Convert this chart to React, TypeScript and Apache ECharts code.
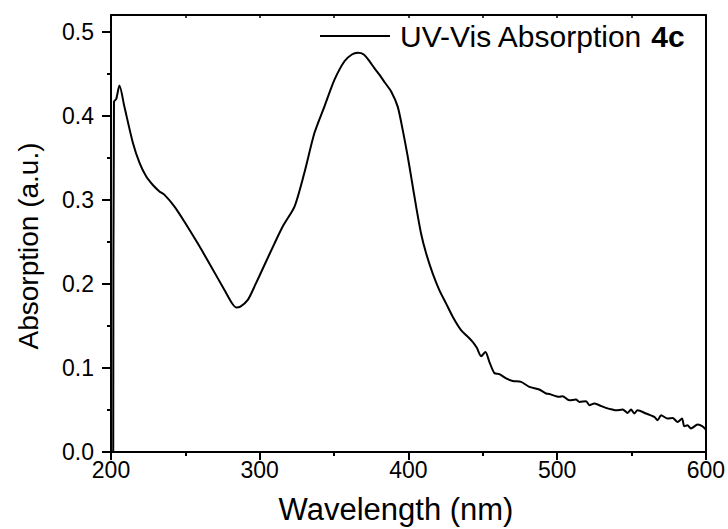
import React, { useEffect, useRef } from "react";
import * as echarts from "echarts";

const wavelength = [201.5, 202, 203.5, 205.7, 209, 214.7, 219.2, 223.6, 228, 232.6, 236, 242.7, 249.4, 258.4, 267.4, 276.3, 281, 284.2, 287, 292, 296.5, 303.2, 309.9, 316, 323.4, 330, 336.8, 343.5, 350.3, 357, 362, 365.9, 370, 373.8, 377, 380.5, 384, 388.4, 392.8, 396.2, 399.5, 401.8, 405.2, 408.5, 411.9, 416.3, 420.8, 425.3, 429.8, 435.4, 440, 443.2, 446, 448.9, 451.8, 454.5, 457.8, 461.2, 465.7, 470.1, 475.8, 481.3, 488, 492.6, 494.8, 501.5, 503.7, 508.2, 512.7, 515, 519.5, 521.7, 525, 528.4, 532.9, 537.3, 539.6, 544.1, 547.4, 549.7, 551.9, 554.1, 559.8, 565.4, 567.6, 569.9, 574.3, 577.7, 581, 584, 585.5, 587.7, 590, 594.5, 597.8, 600];
const absorption = [0, 0.417, 0.42, 0.436, 0.411, 0.368, 0.344, 0.328, 0.318, 0.31, 0.306, 0.292, 0.274, 0.248, 0.2205, 0.1927, 0.178, 0.172, 0.173, 0.181, 0.197, 0.2225, 0.248, 0.27, 0.292, 0.332, 0.3795, 0.411, 0.443, 0.465, 0.473, 0.475, 0.473, 0.465, 0.457, 0.449, 0.44, 0.429, 0.411, 0.383, 0.352, 0.328, 0.292, 0.26, 0.2365, 0.2126, 0.1927, 0.1769, 0.161, 0.145, 0.137, 0.131, 0.124, 0.114, 0.119, 0.107, 0.094, 0.0926, 0.0875, 0.0846, 0.0834, 0.0775, 0.0744, 0.0696, 0.069, 0.0656, 0.0664, 0.0616, 0.0624, 0.0596, 0.0604, 0.0557, 0.0577, 0.0557, 0.0525, 0.0505, 0.0497, 0.0505, 0.0465, 0.0505, 0.0458, 0.0497, 0.0458, 0.0417, 0.0378, 0.0437, 0.0398, 0.0405, 0.0358, 0.0398, 0.0306, 0.0318, 0.028, 0.0326, 0.0306, 0.0267];

const xMajorTicks = [200, 300, 400, 500, 600];
const xMinorTicks = [200, 250, 300, 350, 400, 450, 500, 550, 600];
const yMajorTicks = [0, 0.1, 0.2, 0.3, 0.4, 0.5];
const yMinorTicks = [0, 0.05, 0.1, 0.15, 0.2, 0.25, 0.3, 0.35, 0.4, 0.45, 0.5];

const seriesName = "UV-Vis Absorption 4c";
const xTitle = "Wavelength (nm)";
const yTitle = "Absorption (a.u.)";

const FONT = "'Liberation Sans', Arial, Helvetica, sans-serif";

export default function App() {
  const ref = useRef<HTMLDivElement>(null);
  useEffect(() => {
    if (!ref.current) return;
    const chart = echarts.init(ref.current, null, { renderer: "svg" });
    const lineStyle = { color: "#000", width: 2 };
    const base = { type: "value" as const, min: 200, max: 600, splitLine: { show: false } };
    const ybase = { type: "value" as const, min: 0, max: 0.52, splitLine: { show: false } };
    chart.setOption({
      animation: false,
      backgroundColor: "#fff",
      grid: { left: 111, top: 15, width: 595, height: 437, containLabel: false },
      legend: {
        left: 320,
        top: 19,
        padding: 0,
        itemWidth: 70,
        itemHeight: 2,
        data: [{ name: seriesName, icon: "rect", itemStyle: { color: "#000" } }],
        formatter: () => "UV-Vis Absorption {b|4c}",
        textStyle: {
          fontFamily: FONT,
          fontSize: 30,
          color: "#000",
          lineHeight: 34,
          padding: [0, 0, 0, 5],
          rich: { b: { fontFamily: FONT, fontSize: 30, fontWeight: "bold", color: "#000", lineHeight: 34 } },
        },
      },
      xAxis: [
        {
          ...base,
          position: "bottom",
          axisLine: { show: true, onZero: false, lineStyle },
          axisTick: { show: true, inside: false, length: 4, customValues: xMinorTicks, lineStyle },
          axisLabel: { show: true, customValues: xMajorTicks, fontFamily: FONT, fontSize: 23, color: "#000", margin: 6 },
        },
        {
          ...base,
          position: "bottom",
          axisLine: { show: false, onZero: false },
          axisTick: { show: true, inside: false, length: 8, customValues: xMajorTicks, lineStyle },
          axisLabel: { show: false },
        },
        {
          ...base,
          position: "top",
          axisLine: { show: true, onZero: false, lineStyle },
          axisTick: { show: true, inside: true, length: 3, customValues: xMinorTicks, lineStyle: { color: "#000", width: 1.5 } },
          axisLabel: { show: false },
        },
      ],
      yAxis: [
        {
          ...ybase,
          position: "left",
          axisLine: { show: true, onZero: false, lineStyle },
          axisTick: { show: true, inside: false, length: 4, customValues: yMinorTicks, lineStyle },
          axisLabel: {
            show: true,
            customValues: yMajorTicks,
            fontFamily: FONT,
            fontSize: 23,
            color: "#000",
            margin: 17,
            formatter: (v: number) => v.toFixed(1),
          },
        },
        {
          ...ybase,
          position: "left",
          axisLine: { show: false, onZero: false },
          axisTick: { show: true, inside: false, length: 9, customValues: yMajorTicks, lineStyle },
          axisLabel: { show: false },
        },
        {
          ...ybase,
          position: "right",
          axisLine: { show: true, onZero: false, lineStyle },
          axisTick: { show: false },
          axisLabel: { show: false },
        },
      ],
      graphic: [
        {
          type: "text",
          x: 396,
          y: 509,
          style: { text: xTitle, font: `31px ${FONT}`, fill: "#000", textAlign: "center", textVerticalAlign: "middle" },
        },
        {
          type: "text",
          x: 28,
          y: 246,
          rotation: Math.PI / 2,
          style: { text: yTitle, font: `28px ${FONT}`, fill: "#000", textAlign: "center", textVerticalAlign: "middle" },
        },
      ],
      series: [
        {
          name: seriesName,
          type: "line",
          xAxisIndex: 0,
          yAxisIndex: 0,
          symbol: "none",
          smooth: 0.25,
          lineStyle: { color: "#000", width: 2 },
          itemStyle: { color: "#000" },
          data: wavelength.map((w, i) => [w, absorption[i]]),
        },
      ],
    });
    return () => chart.dispose();
  }, []);
  return <div ref={ref} style={{ position: "fixed", left: 0, top: 0, width: 728, height: 529 }} />;
}
